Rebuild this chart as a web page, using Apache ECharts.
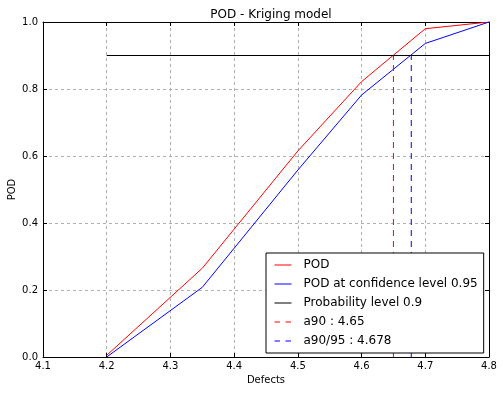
<!DOCTYPE html>
<html>
<head>
<meta charset="utf-8">
<script src="https://cdn.jsdelivr.net/npm/echarts@6/dist/echarts.min.js"></script>
<style>
html,body{margin:0;padding:0;background:#fff;}
#chart{width:503px;height:393px;}
</style>
</head>
<body>
<div id="chart"></div>
<script>
// Data
var defects = [4.2, 4.35, 4.5, 4.6, 4.7, 4.8];
var pod = [0.005, 0.265, 0.615, 0.822, 0.98, 1.0];
var podConf = [0.0, 0.208, 0.558, 0.782, 0.936, 1.0];
var probLevel = 0.9;
var probRange = [4.2, 4.8];
var a90 = 4.65;
var a9095 = 4.678;
var xTicks = [4.1, 4.2, 4.3, 4.4, 4.5, 4.6, 4.7, 4.8];
var yTicks = [0.0, 0.2, 0.4, 0.6, 0.8, 1.0];
var names = ['POD', 'POD at confidence level 0.95', 'Probability level 0.9', 'a90 : 4.65', 'a90/95 : 4.678'];
var colors = ['#ff0000', '#0000ff', '#000000', '#ff0000', '#0000ff'];
var dashed = [false, false, false, true, true];

var FONT = 'DejaVu Sans';
var DASH = [6, 5];
function pairs(xs, ys){ return xs.map(function(x,i){ return [x, ys[i]]; }); }
function lineStyleFor(i){ return {color:colors[i], width:1, type: dashed[i] ? DASH : 'solid'}; }

var chart = echarts.init(document.getElementById('chart'), null, {renderer:'canvas'});
var gridStyle = {show:true, lineStyle:{color:'#b0b0b0', type:[3,3], width:1}};
var option = {
  animation:false,
  backgroundColor:'#fff',
  textStyle:{fontFamily:FONT},
  title:{text:'POD - Kriging model', left:266, top:4, textAlign:'center',
    textStyle:{fontFamily:FONT, fontSize:12, fontWeight:'normal', color:'#000'}},
  grid:{left:43, right:14, top:22, bottom:36, containLabel:false, outerBoundsMode:'none'},
  legend:{
    orient:'vertical', left:266, top:253,
    data:names.map(function(n, i){
      var ls = lineStyleFor(i);
      if (dashed[i]) ls.type = [5.5, 5.5];
      return {name:n, lineStyle:ls, itemStyle:{opacity:0}};
    }),
    backgroundColor:'#fff', borderColor:'#000', borderWidth:1, borderRadius:0,
    padding:[6,6,6,8], itemWidth:17, itemHeight:15, itemGap:7,
    itemStyle:{opacity:0},
    textStyle:{fontFamily:FONT, fontSize:12, color:'#000', padding:[0,0,0,7]},
    selectedMode:false
  },
  xAxis:[{
    type:'value', min:xTicks[0], max:xTicks[xTicks.length-1], interval:0.1,
    name:'Defects', nameLocation:'middle', nameGap:18,
    nameTextStyle:{fontFamily:FONT, fontSize:10, color:'#000', verticalAlign:'top'},
    axisLine:{show:true, onZero:false, lineStyle:{color:'#000', width:1}},
    axisTick:{show:true, inside:true, length:4, lineStyle:{color:'#000'}},
    axisLabel:{fontFamily:FONT, fontSize:10, color:'#000', margin:4, formatter:function(v){return v.toFixed(1);}},
    splitLine:gridStyle
  },{
    type:'value', position:'top', min:xTicks[0], max:xTicks[xTicks.length-1], interval:0.1,
    axisLine:{show:true, onZero:false, lineStyle:{color:'#000', width:1}},
    axisTick:{show:true, inside:true, length:4, lineStyle:{color:'#000'}},
    axisLabel:{show:false}, splitLine:{show:false}
  }],
  yAxis:[{
    type:'value', min:yTicks[0], max:yTicks[yTicks.length-1], interval:0.2,
    name:'POD', nameLocation:'middle', nameGap:26, nameRotate:90, nameMoveOverlap:false,
    nameTextStyle:{fontFamily:FONT, fontSize:10, color:'#000'},
    axisLine:{show:true, onZero:false, lineStyle:{color:'#000', width:1}},
    axisTick:{show:true, inside:true, length:4, lineStyle:{color:'#000'}},
    axisLabel:{fontFamily:FONT, fontSize:10, color:'#000', margin:5, formatter:function(v){return v.toFixed(1);}},
    splitLine:gridStyle
  },{
    type:'value', position:'right', min:yTicks[0], max:yTicks[yTicks.length-1], interval:0.2,
    axisLine:{show:true, onZero:false, lineStyle:{color:'#000', width:1}},
    axisTick:{show:true, inside:true, length:4, lineStyle:{color:'#000'}},
    axisLabel:{show:false}, splitLine:{show:false}
  }],
  series:[
    {name:names[0], type:'line', data:pairs(defects, pod), symbol:'none', color:colors[0], lineStyle:lineStyleFor(0)},
    {name:names[1], type:'line', data:pairs(defects, podConf), symbol:'none', color:colors[1], lineStyle:lineStyleFor(1)},
    {name:names[2], type:'line', data:[[probRange[0], probLevel],[probRange[1], probLevel]], symbol:'none', color:colors[2], lineStyle:lineStyleFor(2)},
    {name:names[3], type:'line', data:[[a90, 0],[a90, probLevel]], symbol:'none', color:colors[3], lineStyle:lineStyleFor(3)},
    {name:names[4], type:'line', data:[[a9095, 0],[a9095, probLevel]], symbol:'none', color:colors[4], lineStyle:lineStyleFor(4)}
  ]
};
chart.setOption(option);
</script>
</body>
</html>
